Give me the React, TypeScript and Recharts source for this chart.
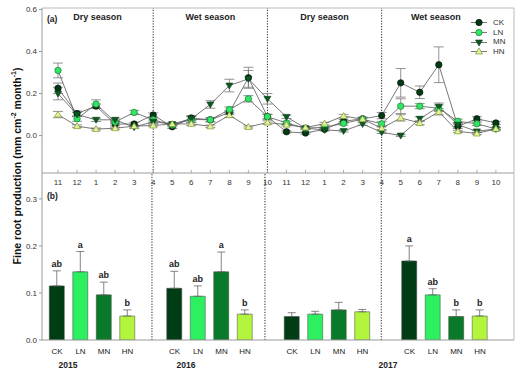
import React from 'react';
import {
  ComposedChart, Line, Bar, XAxis, YAxis, ErrorBar, ReferenceLine,
  ReferenceArea, Label, LabelList, Cell,
} from 'recharts';

const FONT = 'Arial, "Liberation Sans", Helvetica, sans-serif';

// ---------- panel (a): monthly fine root production ----------
const months = [11, 12, 1, 2, 3, 4, 5, 6, 7, 8, 9, 10, 11, 12, 1, 2, 3, 4, 5, 6, 7, 8, 9, 10];
const ck = [0.225, 0.105, 0.14, 0.055, 0.055, 0.098, 0.042, 0.084, 0.075, 0.11, 0.275, 0.09,
  0.018, 0.012, 0.03, 0.068, 0.08, 0.095, 0.251, 0.206, 0.337, 0.044, 0.08, 0.06];
const ln = [0.31, 0.08, 0.15, 0.065, 0.11, 0.075, 0.05, 0.077, 0.075, 0.124, 0.175, 0.09,
  0.06, 0.035, 0.04, 0.058, 0.078, 0.056, 0.14, 0.14, 0.13, 0.068, 0.056, 0.032];
const mn = [0.2, 0.1, 0.075, 0.075, 0.04, 0.066, 0.055, 0.08, 0.148, 0.238, 0.27, 0.175,
  0.089, 0.035, 0.027, 0.022, 0.055, 0.016, 0.0, 0.08, 0.137, 0.052, 0.02, 0.032];
const hn = [0.1, 0.045, 0.031, 0.035, 0.045, 0.048, 0.055, 0.056, 0.044, 0.097, 0.041, 0.062,
  0.052, 0.038, 0.057, 0.093, 0.078, 0.035, 0.084, 0.06, 0.113, 0.02, 0.01, 0.032];
const ckErr = [0.025, 0.012, 0.01, 0.008, 0.008, 0.01, 0.008, 0.01, 0.008, 0.01, 0.05, 0.012,
  0.005, 0.005, 0.005, 0.008, 0.008, 0.015, 0.068, 0.03, 0.085, 0.01, 0.01, 0.008];
const lnErr = [0.035, 0.012, 0.02, 0.008, 0.01, 0.01, 0.008, 0.015, 0.01, 0.012, 0.015, 0.01,
  0.008, 0.005, 0.006, 0.008, 0.008, 0.01, 0.035, 0.012, 0.015, 0.01, 0.008, 0.006];
const mnErr = [0.03, 0.01, 0.008, 0.008, 0.006, 0.008, 0.006, 0.01, 0.018, 0.03, 0.04, 0.025,
  0.008, 0.005, 0.005, 0.005, 0.006, 0.006, 0.004, 0.01, 0.018, 0.01, 0.005, 0.005];
const hnErr = [0.015, 0.006, 0.005, 0.005, 0.005, 0.006, 0.006, 0.008, 0.006, 0.01, 0.005, 0.008,
  0.006, 0.005, 0.006, 0.008, 0.008, 0.006, 0.015, 0.008, 0.015, 0.005, 0.005, 0.005];
const seasonNames = ['Dry season', 'Wet season', 'Dry season', 'Wet season'];
const topYTicks = [0, 0.2, 0.4];
const topYTopTick = 0.6;

// ---------- panel (b): seasonal means ----------
const treatments = ['CK', 'LN', 'MN', 'HN'];
const years = ['2015', '2016', '2017'];
const ckBar = [0.115, 0.110, 0.050, 0.168];
const lnBar = [0.145, 0.093, 0.055, 0.096];
const mnBar = [0.096, 0.145, 0.064, 0.050];
const hnBar = [0.051, 0.055, 0.060, 0.051];
const ckBarErr = [0.032, 0.036, 0.008, 0.032];
const lnBarErr = [0.043, 0.022, 0.006, 0.013];
const mnBarErr = [0.027, 0.042, 0.016, 0.014];
const hnBarErr = [0.013, 0.009, 0.005, 0.013];
const ckSig = ['ab', 'ab', '', 'a'];
const lnSig = ['a', 'ab', '', 'ab'];
const mnSig = ['ab', 'a', '', 'b'];
const hnSig = ['b', 'b', '', 'b'];

const COLORS: Record<string, string> = { CK: '#003c14', LN: '#2cf060', MN: '#087a2a', HN: '#b2f53c' };

const lineData = months.map((m, i) => ({
  i, m,
  CK: ck[i], CKe: ckErr[i], LN: ln[i], LNe: lnErr[i],
  MN: mn[i], MNe: mnErr[i], HN: hn[i], HNe: hnErr[i],
}));
const bounds = months.map((m, i) => ((m === 4 || m === 10) && i < months.length - 1 ? i : -1)).filter((i) => i >= 0);

const barVals = [ckBar, lnBar, mnBar, hnBar];
const barErrs = [ckBarErr, lnBarErr, mnBarErr, hnBarErr];
const barSigs = [ckSig, lnSig, mnSig, hnSig];
const barData: any[] = [];
for (let p = 0; p < 4; p++) {
  for (let t = 0; t < 4; t++) {
    barData.push({
      slot: p * 5 + t, trt: treatments[t], value: barVals[t][p],
      e: barErrs[t][p], err: [0, barErrs[t][p]], sig: barSigs[t][p],
    });
  }
}
const bottomSeparators = [4.04, 8.85, 13.8];
const yearTicks = [0.47, 5.49, 14.09];

const TOP_X: [number, number] = [-0.84, 23.95];
const TOP_Y: [number, number] = [-0.178, 0.607];
const BOT_X: [number, number] = [-0.64, 19.45];
const BOT_Y: [number, number] = [0, 0.355];
const AX = '#9a9a9a';

const Marker = ({ kind, cx, cy }: any) => {
  if (cx == null || cy == null) return null;
  if (kind === 'CK') return <circle cx={cx} cy={cy} r={3.2} fill="#003a12" stroke="#111" strokeWidth={0.7} />;
  if (kind === 'LN') return <circle cx={cx} cy={cy} r={3.2} fill="#33e565" stroke="#1b7a33" strokeWidth={0.7} />;
  if (kind === 'MN') return <polygon points={`${cx - 3.5},${cy - 2.5} ${cx + 3.5},${cy - 2.5} ${cx},${cy + 3.5}`} fill="#0b5a22" stroke="#0a3a16" strokeWidth={0.6} />;
  return <polygon points={`${cx - 3.5},${cy + 2.5} ${cx + 3.5},${cy + 2.5} ${cx},${cy - 3.5}`} fill="#e2f29a" stroke="#7a9a30" strokeWidth={0.7} />;
};

const TopTick = (props: any) => {
  const { x, y, payload } = props;
  return (
    <g>
      <line x1={x} x2={x} y1={y} y2={y - 3} stroke={AX} strokeWidth={0.8} />
      <text x={x} y={y + 12} textAnchor="middle" fontSize={8} fill="#333" fontFamily={FONT}>
        {months[payload.value]}
      </text>
    </g>
  );
};

const LegendBox = () => (
  <div style={{ position: 'absolute', left: 470, top: 18, fontFamily: FONT, fontSize: 8, color: '#333', lineHeight: '9.7px' }}>
    {treatments.map((t) => (
      <div key={t} style={{ display: 'flex', alignItems: 'center', height: 9.7 }}>
        <svg width={20} height={9} style={{ display: 'block' }}>
          <line x1={1} x2={17} y1={4.5} y2={4.5} stroke="#555" strokeWidth={0.8} />
          <Marker kind={t} cx={9} cy={4.5} />
        </svg>
        <span style={{ marginLeft: 3 }}>{t}</span>
      </div>
    ))}
  </div>
);

const SigLabel = (props: any) => {
  const { x, y, width, height, index } = props;
  const d = barData[index];
  if (!d || !d.sig) return null;
  const k = height / d.value;
  const top = y - d.e * k;
  return (
    <text x={x + width / 2} y={top - 4} textAnchor="middle" fontSize={9} fontWeight="bold" fill="#222" fontFamily={FONT}>
      {d.sig}
    </text>
  );
};

const seasonAreas: [number, number][] = [
  [TOP_X[0], bounds[0]], [bounds[0], bounds[1]], [bounds[1], bounds[2]], [bounds[2], 22.7],
];

const yTickStyle = { fontSize: 8, fill: '#333', fontFamily: FONT };

export default function App() {
  return (
    <div style={{ position: 'absolute', left: 0, top: 0, width: 529, height: 376, background: '#fff', fontFamily: FONT }}>
      <div style={{ position: 'absolute', left: 0, top: 0 }}>
        <ComposedChart width={529} height={190} data={lineData} margin={{ top: 8, right: 15, bottom: 0, left: 22 }}>
          <XAxis dataKey="i" type="number" domain={TOP_X} allowDataOverflow ticks={lineData.map((d) => d.i)}
            interval={0} tickSize={0} tickMargin={0} height={17} stroke={AX}
            tick={(p: any) => <TopTick {...p} />} />
          <YAxis type="number" domain={TOP_Y} allowDataOverflow ticks={topYTicks} width={20}
            interval={0} tickSize={3} tickMargin={2} stroke={AX}
            tickFormatter={(v: number) => v.toFixed(1)} tick={yTickStyle} />
          <ReferenceLine y={TOP_Y[1]} stroke="#bbb" strokeWidth={1} ifOverflow="visible" />
          <ReferenceLine x={TOP_X[1]} stroke="#bbb" strokeWidth={1} ifOverflow="visible" />
          <ReferenceLine y={topYTopTick} stroke="#000" strokeOpacity={0} ifOverflow="visible">
            <Label content={(lp: any) => (
              <g>
                <line x1={lp.viewBox.x - 3} x2={lp.viewBox.x} y1={lp.viewBox.y} y2={lp.viewBox.y} stroke={AX} />
                <text x={lp.viewBox.x - 5} y={lp.viewBox.y + 3} textAnchor="end" fontSize={8} fill="#333" fontFamily={FONT}>
                  {topYTopTick.toFixed(1)}
                </text>
              </g>
            )} />
          </ReferenceLine>
          {bounds.map((b) => (
            <ReferenceLine key={b} x={b} stroke="#222" strokeWidth={1} strokeDasharray="1.2 1.5" />
          ))}
          {seasonAreas.map(([a, b], k) => (
            <ReferenceArea key={k} x1={a} x2={b} y1={TOP_Y[0]} y2={TOP_Y[1]} fill="none" fillOpacity={0} stroke="none">
              <Label value={seasonNames[k]} position="insideTop" offset={6}
                style={{ fontSize: 9, fontWeight: 'bold', fill: '#222', fontFamily: FONT }} />
              {k === 0 ? (
                <Label content={(lp: any) => (
                  <text x={lp.viewBox.x + 5} y={lp.viewBox.y + 14} fontSize={8.5} fontWeight="bold" fill="#222" fontFamily={FONT}>(a)</text>
                )} />
              ) : null}
            </ReferenceArea>
          ))}
          {treatments.map((t) => (
            <Line key={t} dataKey={t} type="linear" stroke="#555" strokeWidth={0.8} isAnimationActive={false}
              dot={(p: any) => <Marker key={`${t}-${p.index}`} kind={t} cx={p.cx} cy={p.cy} />} activeDot={false}>
              <ErrorBar dataKey={`${t}e`} direction="y" width={5} stroke="#777" strokeWidth={0.8} />
            </Line>
          ))}
        </ComposedChart>
      </div>
      <LegendBox />
      <div style={{ position: 'absolute', left: 0, top: 165 }}>
        <ComposedChart width={529} height={211} data={barData} margin={{ top: 8, right: 15, bottom: 0, left: 22 }}>
          <XAxis dataKey="slot" type="number" domain={BOT_X} allowDataOverflow ticks={barData.map((d) => d.slot)}
            interval={0} tickSize={0} tickMargin={8} height={16} stroke={AX}
            tickFormatter={(v: number) => treatments[v % 5] || ''}
            tick={{ fontSize: 8, fill: '#222', fontFamily: FONT }} />
          <XAxis xAxisId="yr" dataKey="slot" type="number" domain={BOT_X} allowDataOverflow ticks={yearTicks}
            interval={0} tickSize={0} tickMargin={6} height={20} axisLine={false} tickLine={false}
            tickFormatter={(v: number) => years[yearTicks.indexOf(v)]}
            tick={{ fontSize: 8.5, fontWeight: 'bold', fill: '#222', fontFamily: FONT }} />
          <YAxis type="number" domain={BOT_Y} allowDataOverflow ticks={[0, 0.1, 0.2, 0.3]} width={20}
            interval={0} tickSize={3} tickMargin={2} stroke={AX}
            tickFormatter={(v: number) => v.toFixed(1)} tick={yTickStyle} />
          <ReferenceLine x={BOT_X[1]} stroke="#bbb" strokeWidth={1} ifOverflow="visible" />
          {bottomSeparators.map((b) => (
            <ReferenceLine key={b} x={b} stroke="#222" strokeWidth={1} strokeDasharray="1.2 1.5" />
          ))}
          <ReferenceArea x1={BOT_X[0]} x2={BOT_X[1]} y1={BOT_Y[0]} y2={BOT_Y[1]} fill="none" fillOpacity={0} stroke="none">
            <Label content={(lp: any) => (
              <text x={lp.viewBox.x + 5} y={lp.viewBox.y + 26} fontSize={8.5} fontWeight="bold" fill="#222" fontFamily={FONT}>(b)</text>
            )} />
          </ReferenceArea>
          <Bar dataKey="value" barSize={15} isAnimationActive={false} stroke="#444" strokeWidth={0.5}>
            {barData.map((d, k) => <Cell key={k} fill={COLORS[d.trt]} />)}
            <ErrorBar dataKey="err" direction="y" width={4} stroke="#666" strokeWidth={0.8} />
            <LabelList dataKey="sig" content={(p: any) => <SigLabel {...p} />} />
          </Bar>
        </ComposedChart>
      </div>
      <svg style={{ position: 'absolute', left: 0, top: 0 }} width={40} height={376}>
        <text x={17} y={166} transform="rotate(-90 17 166)" textAnchor="middle" dominantBaseline="central"
          fontSize={10.5} fontWeight="bold" fill="#111" fontFamily={FONT}>
          Fine root production (mm cm<tspan dy={-4} fontSize={7}>-2</tspan><tspan dy={4}> month</tspan><tspan dy={-4} fontSize={7}>-1</tspan><tspan dy={4}>)</tspan>
        </text>
      </svg>
    </div>
  );
}
